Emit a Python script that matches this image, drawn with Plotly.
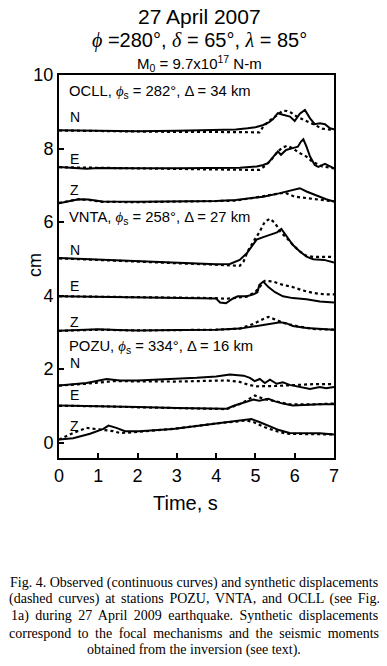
import plotly.graph_objects as go

# ---------------- data ----------------
x_ticks = [0, 1, 2, 3, 4, 5, 6, 7]
y_ticks = [0, 2, 4, 6, 8, 10]

# OCLL
ocll_n_t = [0, 0.5, 1, 2, 3, 4, 4.5, 4.8, 5.0, 5.2, 5.35, 5.45, 5.57, 5.7, 5.8, 5.88, 6.0, 6.13, 6.26, 6.39, 6.51, 6.64, 6.77, 6.9, 7.0]
ocll_n_obs = [8.50, 8.49, 8.48, 8.47, 8.48, 8.50, 8.52, 8.55, 8.58, 8.64, 8.72, 8.80, 8.96, 8.92, 8.90, 8.87, 8.75, 8.95, 9.05, 8.82, 8.66, 8.69, 8.66, 8.55, 8.52]
ocll_n_st = [0, 1, 2, 3, 4, 4.5, 4.9, 5.1, 5.2, 5.35, 5.5, 5.7, 5.8, 5.9, 6.05, 6.2, 6.39, 6.55, 6.7, 7.0]
ocll_n_syn = [8.49, 8.47, 8.46, 8.45, 8.45, 8.45, 8.44, 8.44, 8.60, 8.75, 8.87, 9.03, 9.02, 8.98, 8.87, 8.80, 8.70, 8.62, 8.54, 8.50]

ocll_e_t = [0, 0.3, 0.7, 1.0, 1.5, 2, 3, 4, 4.6, 5.03, 5.2, 5.32, 5.47, 5.57, 5.65, 5.78, 5.95, 6.08, 6.16, 6.22, 6.3, 6.39, 6.51, 6.6, 6.77, 6.88, 7.0]
ocll_e_obs = [7.50, 7.47, 7.45, 7.47, 7.46, 7.46, 7.46, 7.46, 7.48, 7.51, 7.55, 7.60, 7.78, 7.92, 7.83, 7.96, 8.01, 8.05, 8.19, 8.25, 8.05, 7.78, 7.55, 7.50, 7.58, 7.53, 7.46]
ocll_e_st = [0, 1, 2, 3, 4, 4.8, 5.1, 5.25, 5.4, 5.57, 5.7, 5.8, 5.95, 6.1, 6.3, 6.45, 6.7, 6.9, 7.0]
ocll_e_syn = [7.49, 7.47, 7.45, 7.44, 7.43, 7.42, 7.42, 7.53, 7.69, 7.92, 8.03, 8.07, 8.01, 7.89, 7.78, 7.64, 7.51, 7.48, 7.46]

ocll_z_t = [0, 0.25, 0.5, 0.75, 1.1, 2, 3, 4, 4.5, 5.2, 5.6, 5.9, 6.13, 6.3, 6.45, 6.6, 6.8, 7.0]
ocll_z_obs = [6.51, 6.57, 6.62, 6.61, 6.56, 6.55, 6.56, 6.57, 6.60, 6.69, 6.78, 6.86, 6.92, 6.83, 6.77, 6.69, 6.62, 6.56]
ocll_z_st = [0, 0.25, 0.5, 0.75, 1.1, 2, 3, 4, 4.5, 5.4, 5.6, 5.75, 6.0, 6.3, 6.6, 7.0]
ocll_z_syn = [6.52, 6.58, 6.62, 6.60, 6.55, 6.54, 6.55, 6.56, 6.58, 6.74, 6.78, 6.80, 6.69, 6.65, 6.60, 6.56]

# VNTA
vnta_n_t = [0, 1, 2, 3, 4, 4.35, 4.6, 4.78, 4.9, 5.03, 5.2, 5.37, 5.55, 5.66, 5.8, 5.95, 6.13, 6.3, 6.47, 6.75, 7.0]
vnta_n_obs = [5.02, 4.98, 4.93, 4.89, 4.85, 4.86, 4.97, 5.15, 5.33, 5.52, 5.59, 5.65, 5.72, 5.81, 5.61, 5.38, 5.20, 5.06, 4.99, 4.97, 4.90]
vnta_n_st = [0, 1, 2, 3, 4, 4.5, 4.6, 4.7, 4.8, 4.95, 5.11, 5.24, 5.37, 5.5, 5.63, 5.8, 5.95, 6.13, 6.3, 6.47, 7.0]
vnta_n_syn = [5.01, 4.97, 4.92, 4.88, 4.84, 4.82, 4.81, 4.93, 5.20, 5.47, 5.74, 6.01, 6.09, 5.97, 5.74, 5.56, 5.38, 5.20, 5.08, 5.05, 5.05]

vnta_e_t = [0, 1, 2, 3, 4.0, 4.1, 4.25, 4.4, 4.55, 4.78, 4.95, 5.05, 5.1, 5.2, 5.33, 5.5, 5.7, 5.95, 6.3, 6.64, 7.0]
vnta_e_obs = [3.98, 3.97, 3.95, 3.93, 3.92, 3.81, 3.79, 3.90, 3.98, 3.98, 4.03, 4.09, 4.29, 4.38, 4.23, 4.09, 3.98, 3.93, 3.90, 3.84, 3.81]
vnta_e_st = [0, 1, 2, 3, 4, 4.25, 4.78, 5.0, 5.24, 5.45, 5.7, 5.95, 6.2, 6.47, 6.77, 7.0]
vnta_e_syn = [3.98, 3.97, 3.95, 3.93, 3.93, 3.91, 3.97, 4.10, 4.40, 4.38, 4.29, 4.23, 4.14, 4.07, 4.03, 4.03]

vnta_z_t = [0, 0.5, 1, 1.5, 2, 3, 4, 4.6, 4.95, 5.29, 5.63, 5.78, 5.95, 6.3, 6.64, 7.0]
vnta_z_obs = [3.04, 3.07, 3.08, 3.06, 3.05, 3.06, 3.07, 3.10, 3.16, 3.23, 3.27, 3.25, 3.17, 3.12, 3.09, 3.07]
vnta_z_st = [0, 1, 2, 3, 4, 4.6, 4.95, 5.2, 5.33, 5.5, 5.7, 6.05, 6.47, 7.0]
vnta_z_syn = [3.04, 3.07, 3.05, 3.06, 3.07, 3.10, 3.23, 3.36, 3.42, 3.35, 3.26, 3.17, 3.09, 3.07]

# POZU
pozu_n_t = [0, 0.7, 1.21, 1.55, 2.0, 2.91, 3.5, 4.0, 4.35, 4.7, 4.86, 4.98, 5.11, 5.24, 5.37, 5.54, 5.7, 5.87, 6.13, 6.39, 6.64, 6.8, 7.0]
pozu_n_obs = [1.55, 1.62, 1.73, 1.69, 1.69, 1.73, 1.76, 1.80, 1.85, 1.82, 1.76, 1.67, 1.73, 1.62, 1.71, 1.60, 1.64, 1.57, 1.51, 1.46, 1.51, 1.48, 1.51]
pozu_n_st = [0, 0.7, 1.38, 2.0, 3.0, 4.27, 4.6, 4.8, 5.0, 5.5, 6.0, 6.5, 7.0]
pozu_n_syn = [1.55, 1.60, 1.67, 1.66, 1.66, 1.69, 1.65, 1.58, 1.53, 1.54, 1.57, 1.59, 1.59]

pozu_e_t = [0, 1, 2, 3, 4.27, 4.45, 4.78, 4.95, 5.1, 5.33, 5.5, 5.7, 5.95, 6.3, 6.64, 7.0]
pozu_e_obs = [1.01, 1.00, 0.97, 0.94, 0.92, 1.00, 1.12, 1.17, 1.14, 1.19, 1.12, 1.06, 1.01, 1.03, 1.04, 1.04]
pozu_e_st = [0, 1, 2, 3, 4.27, 4.65, 4.99, 5.2, 5.54, 5.87, 6.47, 7.0]
pozu_e_syn = [1.00, 0.99, 0.96, 0.93, 0.91, 1.07, 1.28, 1.19, 1.12, 1.04, 1.04, 1.06]

pozu_z_t = [0, 0.36, 0.79, 1.13, 1.26, 1.46, 1.68, 2.04, 2.9, 3.5, 4.08, 4.5, 4.78, 4.9, 5.1, 5.37, 5.6, 5.87, 6.3, 6.64, 7.0]
pozu_z_obs = [0.08, 0.12, 0.24, 0.37, 0.46, 0.40, 0.31, 0.31, 0.37, 0.45, 0.53, 0.58, 0.62, 0.64, 0.56, 0.43, 0.34, 0.26, 0.26, 0.25, 0.22]
pozu_z_st = [0, 0.36, 0.7, 1.0, 1.38, 1.55, 1.9, 2.9, 4.08, 4.78, 4.95, 5.2, 5.54, 5.8, 6.3, 7.0]
pozu_z_syn = [0.08, 0.26, 0.40, 0.36, 0.31, 0.26, 0.28, 0.37, 0.53, 0.60, 0.56, 0.43, 0.31, 0.24, 0.24, 0.22]

observed = [
    (ocll_n_t, ocll_n_obs), (ocll_e_t, ocll_e_obs), (ocll_z_t, ocll_z_obs),
    (vnta_n_t, vnta_n_obs), (vnta_e_t, vnta_e_obs), (vnta_z_t, vnta_z_obs),
    (pozu_n_t, pozu_n_obs), (pozu_e_t, pozu_e_obs), (pozu_z_t, pozu_z_obs),
]
synthetic = [
    (ocll_n_st, ocll_n_syn), (ocll_e_st, ocll_e_syn), (ocll_z_st, ocll_z_syn),
    (vnta_n_st, vnta_n_syn), (vnta_e_st, vnta_e_syn), (vnta_z_st, vnta_z_syn),
    (pozu_n_st, pozu_n_syn), (pozu_e_st, pozu_e_syn), (pozu_z_st, pozu_z_syn),
]

g = "<span style='font-family:Liberation Serif'><i>%s</i></span>"
station_labels = [
    "OCLL, " + (g % "ϕ") + "<sub>s</sub> = 282°, Δ = 34 km",
    "VNTA, " + (g % "ϕ") + "<sub>s</sub> = 258°, Δ = 27 km",
    "POZU, " + (g % "ϕ") + "<sub>s</sub> = 334°, Δ = 16 km",
]
station_label_y = [9.54, 6.11, 2.61]
comp_labels = ["N", "E", "Z", "N", "E", "Z", "N", "E", "Z"]
comp_label_y = [8.86, 7.72, 6.88, 5.24, 4.27, 3.29, 2.17, 1.30, 0.46]

caption_lines = [
    "Fig. 4. Observed (continuous curves) and synthetic displacements",
    "(dashed curves) at stations POZU, VNTA, and OCLL (see Fig.",
    "1a) during 27 April 2009 earthquake. Synthetic displacements",
    "correspond to the focal mechanisms and the seismic moments",
    "obtained from the inversion (see text).",
]
caption_word_spacing = [0, 2.2, 2.9, 3.0, 0]

# ---------------- figure ----------------
fig = go.Figure()
for t, y in synthetic:
    fig.add_trace(go.Scatter(x=t, y=y, mode="lines",
                             line=dict(color="black", width=2.2, dash="dot"),
                             showlegend=False, hoverinfo="skip"))
for t, y in observed:
    fig.add_trace(go.Scatter(x=t, y=y, mode="lines",
                             line=dict(color="black", width=2),
                             showlegend=False, hoverinfo="skip"))

sans = "Liberation Sans, Arial, sans-serif"
serif = "Liberation Serif, Times New Roman, serif"
anns = []
for txt, yy in zip(station_labels, station_label_y):
    anns.append(dict(x=0.2, y=yy, xref="x", yref="y", text=txt, showarrow=False,
                     xanchor="left", yanchor="middle", font=dict(family=sans, size=14.8, color="black")))
for txt, yy in zip(comp_labels, comp_label_y):
    anns.append(dict(x=0.22, y=yy, xref="x", yref="y", text=txt, showarrow=False,
                     xanchor="left", yanchor="middle", font=dict(family=sans, size=14, color="black")))

top_texts = [
    ("27 April 2007", 1.152, 21),
    ((g % "ϕ") + " =280°, " + (g % "δ") + " = 65°, " + (g % "λ") + " = 85°", 1.091, 20),
    ("M<sub>0</sub> = 9.7x10<sup>17</sup> N-m", 1.031, 15),
]
for txt, yy, sz in top_texts:
    anns.append(dict(x=0.51, y=yy, xref="paper", yref="paper", text=txt, showarrow=False,
                     xanchor="center", yanchor="middle",
                     font=dict(family=sans, size=sz, color="black")))
anns += [
    dict(x=3.23, y=-0.117, xref="x", yref="paper", text="Time, s", showarrow=False,
         xanchor="center", yanchor="middle", font=dict(family=sans, size=20, color="black")),
    dict(x=-0.087, y=0.504, xref="paper", yref="paper", text="cm", textangle=-90, showarrow=False,
         xanchor="center", yanchor="middle", font=dict(family=sans, size=18, color="black")),
]
cap_y = [-0.326, -0.368, -0.413, -0.457, -0.501]
for txt, yy, ws in zip(caption_lines, cap_y, caption_word_spacing):
    if ws:
        txt = "<span style='word-spacing:%.1fpx'>%s</span>" % (ws, txt)
    anns.append(dict(x=0.491, y=yy, xref="paper", yref="paper", text=txt, showarrow=False,
                     xanchor="center", yanchor="middle",
                     font=dict(family=serif, size=14, color="black")))

# the page body has an 8px margin: the figure is shifted by (8, 8)
fig.update_layout(
    width=379, height=658,
    margin=dict(l=51, r=53, t=67, b=208),
    paper_bgcolor="white", plot_bgcolor="white",
    annotations=anns,
    xaxis=dict(range=[0, 7], tickvals=x_ticks, ticks="inside", ticklen=5, tickwidth=1.5,
               tickcolor="black", showline=True, linecolor="black", linewidth=2, mirror=True,
               showgrid=False, zeroline=False,
               tickfont=dict(family=sans, size=18, color="black")),
    yaxis=dict(range=[-0.42, 10], tickvals=y_ticks, ticks="inside", ticklen=5, tickwidth=1.5,
               tickcolor="black", showline=True, linecolor="black", linewidth=2, mirror=True,
               showgrid=False, zeroline=False,
               tickfont=dict(family=sans, size=18, color="black")),
)
fig.write_html("out.html")
